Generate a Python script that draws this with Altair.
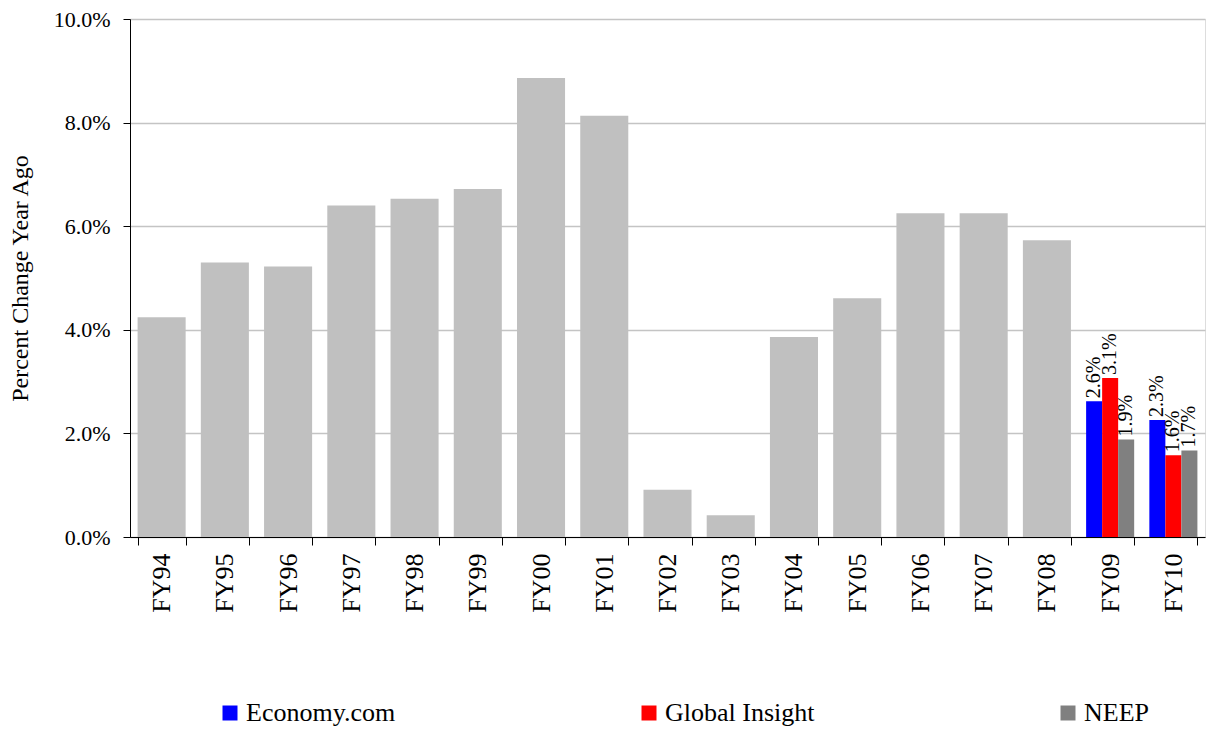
import altair as alt
import pandas as pd

categories = ["FY94", "FY95", "FY96", "FY97", "FY98", "FY99", "FY00", "FY01",
              "FY02", "FY03", "FY04", "FY05", "FY06", "FY07", "FY08", "FY09", "FY10"]
hist_years = categories[:15]
hist_values = [4.24, 5.30, 5.22, 6.40, 6.53, 6.72, 8.86, 8.13,
               0.91, 0.42, 3.86, 4.61, 6.25, 6.25, 5.73]
series = ["Economy.com", "Global Insight", "NEEP"]
series_colors = ["#0000FF", "#FF0000", "#808080"]
fc_years = ["FY09", "FY10"]
fc_values = {
    "Economy.com": [2.62, 2.26],
    "Global Insight": [3.07, 1.58],
    "NEEP": [1.88, 1.67],
}

hist_df = pd.DataFrame({"year": hist_years, "value": hist_values})
rows = []
for s in series:
    for y, v in zip(fc_years, fc_values[s]):
        rows.append({"year": y, "series": s, "value": v})
fc_df = pd.DataFrame(rows)

FONT = "Liberation Serif"

x_enc = alt.X(
    "year:N",
    sort=categories,
    scale=alt.Scale(domain=categories, paddingInner=0.24, paddingOuter=0.12),
    axis=alt.Axis(
        title=None, labelAngle=270, labelAlign="right", labelBaseline="middle",
        labelFontSize=26, labelFont=FONT, labelColor="#000000",
        tickBand="extent", tickSize=8, tickColor="#000000",
        labelPadding=8, domainColor="#000000", grid=False,
    ),
)
y_enc = alt.Y(
    "value:Q",
    stack=None,
    scale=alt.Scale(domain=[0, 10], nice=False),
    axis=alt.Axis(
        title="Percent Change Year Ago", titleFont=FONT, titleFontSize=24,
        titleFontWeight="normal", titleColor="#000000",
        titleX=-103, titleY=259, titleAngle=270, titleBaseline="alphabetic",
        titleAlign="center",
        values=[0, 2, 4, 6, 8, 10],
        labelExpr="format(datum.value, '.1f') + '%'",
        labelFont=FONT, labelFontSize=22, labelColor="#000000",
        tickSize=7, tickColor="#000000", labelPadding=13,
        domainColor="#000000", gridColor="#C4C4C4", gridWidth=1.5,
    ),
)

hist = alt.Chart(hist_df).mark_bar(color="#C0C0C0").encode(x=x_enc, y=y_enc)

fc_bars = alt.Chart(fc_df).mark_bar().encode(
    x=x_enc,
    y=y_enc,
    xOffset=alt.XOffset("series:N", sort=series,
                        scale=alt.Scale(domain=series, paddingInner=0, paddingOuter=0)),
    color=alt.Color(
        "series:N",
        sort=series,
        scale=alt.Scale(domain=series, range=series_colors),
        legend=alt.Legend(
            title=None, orient="none", direction="horizontal",
            legendX=87, legendY=681, gridAlign="all", columnPadding=240,
            symbolType="square", symbolSize=225, symbolStrokeWidth=0,
            symbolOffset=0, labelOffset=3,
            labelFont=FONT, labelFontSize=26, labelColor="#000000",
            padding=0, labelLimit=400,
        ),
    ),
)

fc_labels = alt.Chart(fc_df).transform_calculate(
    label="format(datum.value, '.1f') + '%'"
).mark_text(
    angle=270, align="left", baseline="middle", dx=3,
    font=FONT, fontSize=20, color="#000000",
).encode(
    x=x_enc,
    y=y_enc,
    xOffset=alt.XOffset("series:N", sort=series,
                        scale=alt.Scale(domain=series, paddingInner=0, paddingOuter=0)),
    text="label:N",
)

chart = alt.layer(hist, fc_bars, fc_labels).properties(
    width=1075,
    height=518,
    autosize=alt.AutoSizeParams(type="none"),
    padding={"left": 122, "top": 11, "right": 1, "bottom": 200},
).configure_view(stroke=None).configure(background="#FFFFFF")

chart.save("out.html", embed_options={"renderer": "svg", "actions": False})
